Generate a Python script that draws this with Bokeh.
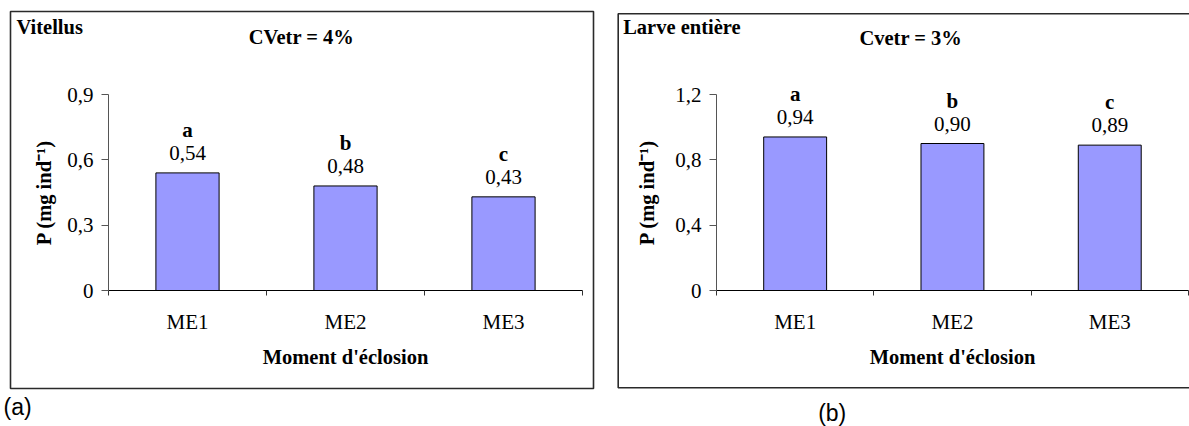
from bokeh.plotting import figure
from bokeh.models import (ColumnDataSource, FixedTicker, CustomJSTickFormatter,
                          Label, LabelSet, BoxAnnotation, Range1d)
from bokeh.layouts import row
from bokeh.core.properties import value
from bokeh.embed import file_html
from bokeh.resources import INLINE

# ---------------- data ----------------
categories = ["ME1", "ME2", "ME3"]
vitellus_values = [0.54, 0.48, 0.43]
vitellus_letters = ["a", "b", "c"]
larve_values = [0.94, 0.90, 0.89]
larve_letters = ["a", "b", "c"]
vitellus_yticks = [0, 0.3, 0.6, 0.9]
larve_yticks = [0, 0.4, 0.8, 1.2]
x_title = "Moment d'éclosion"
y_title = "P (mg ind\u207b\u00b9)"
panel_names = ["Vitellus", "Larve entière"]
panel_cv = ["CVetr = 4%", "Cvetr = 3%"]
panel_tags = ["(a)", "(b)"]

FONT = "Liberation Serif"
BAR_FILL = "#9999ff"
H = 426


def make_panel(values, letters, yticks, name, cv, tag, g):
    n = len(categories)
    ymax = yticks[-1]
    # plot-area geometry (pixels) -> ranges for a frame covering the canvas
    ppc = g["ppc"]
    x0 = g["x0"]
    ytop, ybot = 94, 290
    ppu = (ybot - ytop) / ymax
    x_range = Range1d(-x0 / ppc, (g["w"] - x0) / ppc)
    y_range = Range1d(-(H - ybot) / ppu, ybot / ppu)

    p = figure(width=g["w"], height=H, x_range=x_range, y_range=y_range,
               min_border=0, min_border_left=0, min_border_right=0,
               min_border_top=0, min_border_bottom=0,
               output_backend="svg", toolbar_location=None)
    p.outline_line_color = None
    p.background_fill_color = "white"
    p.border_fill_color = "white"
    p.xgrid.visible = False
    p.ygrid.visible = False

    src = ColumnDataSource(dict(
        x=[i + 0.5 for i in range(n)],
        top=values,
        vlab=[f"{v:.2f}".replace(".", ",") for v in values],
        let=letters,
    ))
    p.vbar(x="x", top="top", bottom=0, width=0.4, source=src,
           fill_color=BAR_FILL, line_color="black", line_width=1)

    # x axis
    xa = p.xaxis[0]
    xa.fixed_location = 0
    xa.bounds = (0, n)
    xa.ticker = FixedTicker(ticks=[i + 0.5 for i in range(n)],
                            minor_ticks=list(range(n + 1)))
    xa.formatter = CustomJSTickFormatter(args=dict(cats=categories),
                                         code="return cats[Math.floor(tick)];")
    xa.major_tick_line_color = None
    xa.major_tick_out = 0
    xa.major_tick_in = 0
    xa.minor_tick_in = 0
    xa.minor_tick_out = 5
    xa.minor_tick_line_color = "#333333"
    xa.axis_line_color = "black"
    xa.major_label_standoff = 14
    xa.major_label_text_font = FONT
    xa.major_label_text_font_size = "21px"
    xa.major_label_text_color = "black"
    xa.axis_label = x_title
    xa.axis_label_text_font = FONT
    xa.axis_label_text_font_style = "bold"
    xa.axis_label_text_font_size = "20.5px"
    xa.axis_label_text_color = "black"
    xa.axis_label_standoff = 9

    # y axis
    ya = p.yaxis[0]
    ya.fixed_location = 0
    ya.bounds = (0, ymax)
    ya.ticker = FixedTicker(ticks=yticks, minor_ticks=[])
    ya.formatter = CustomJSTickFormatter(
        code="return tick == 0 ? '0' : tick.toFixed(1).replace('.', ',');")
    ya.major_tick_in = 0
    ya.major_tick_out = 7
    ya.major_tick_line_color = "#555555"
    ya.axis_line_color = "#555555"
    ya.major_label_standoff = 8
    ya.major_label_text_font = FONT
    ya.major_label_text_font_size = "21px"
    ya.major_label_text_color = "black"
    ya.axis_label = y_title
    ya.axis_label_text_font = FONT
    ya.axis_label_text_font_style = "bold"
    ya.axis_label_text_font_size = "20.5px"
    ya.axis_label_text_color = "black"
    ya.axis_label_standoff = g["ystand"]

    # value and significance labels
    p.add_layout(LabelSet(x="x", y="top", text="vlab", source=src,
                          text_align="center", text_baseline="middle",
                          y_offset=20, text_font=value(FONT),
                          text_font_size="21px", text_color="black"))
    p.add_layout(LabelSet(x="x", y="top", text="let", source=src,
                          text_align="center", text_baseline="middle",
                          y_offset=43, text_font=value(FONT),
                          text_font_style="bold",
                          text_font_size="21px", text_color="black"))

    # panel frame box
    bl, bt, br, bb = g["box"]
    p.add_layout(BoxAnnotation(left=bl, right=br, top=bt, bottom=bb,
                               left_units="canvas", right_units="canvas",
                               top_units="canvas", bottom_units="canvas",
                               fill_alpha=0, line_color="#2a2a2a",
                               line_alpha=1.0, line_width=1.6))

    p.add_layout(Label(x=g["name"][0], y=g["name"][1], x_units="canvas",
                       y_units="canvas", text=name, text_font=FONT,
                       text_font_style="bold", text_font_size="20.5px",
                       text_align="left", text_baseline="middle",
                       text_color="black"))
    p.add_layout(Label(x=g["cv"][0], y=g["cv"][1], x_units="canvas",
                       y_units="canvas", text=cv, text_font=FONT,
                       text_font_style="bold", text_font_size="20.5px",
                       text_align="center", text_baseline="middle",
                       text_color="black"))
    p.add_layout(Label(x=g["tag"][0], y=g["tag"][1], x_units="canvas",
                       y_units="canvas", text=tag, text_font="Liberation Sans",
                       text_font_size="23px", text_align=g["tag_align"],
                       text_baseline="middle", text_color="black"))
    return p


geom_a = dict(w=600, x0=108, ppc=158, ystand=9,
              box=(10, 11, 593, 388), name=(16, 26), cv=(301, 36),
              tag=(3, 406), tag_align="left")
geom_b = dict(w=589, x0=116, ppc=157.3, ystand=14,
              box=(17.7, 13.3, 610, 387.3), name=(22.7, 26.7), cv=(310.3, 37.7),
              tag=(231.7, 412), tag_align="center")

p1 = make_panel(vitellus_values, vitellus_letters, vitellus_yticks,
                panel_names[0], panel_cv[0], panel_tags[0], geom_a)
p2 = make_panel(larve_values, larve_letters, larve_yticks,
                panel_names[1], panel_cv[1], panel_tags[1], geom_b)

layout = row(p1, p2)
open("out.html", "w").write(file_html(layout, INLINE))
